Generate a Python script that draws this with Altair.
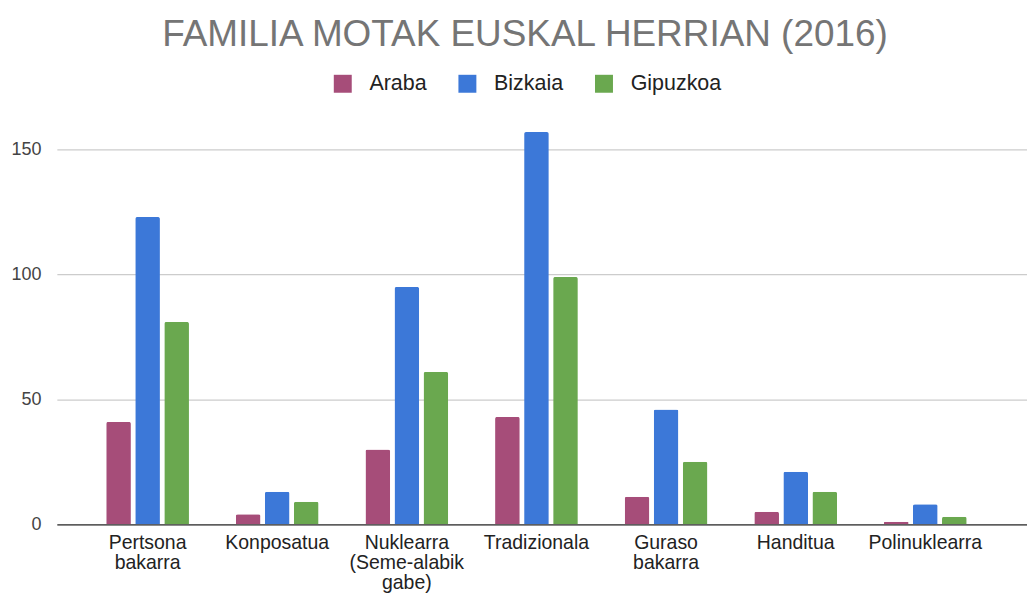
import altair as alt
import pandas as pd

categories = ["Pertsona bakarra", "Konposatua", "Nuklearra (Seme-alabik gabe)",
              "Tradizionala", "Guraso bakarra", "Handitua", "Polinuklearra"]
series = ["Araba", "Bizkaia", "Gipuzkoa"]
araba = [41, 4, 30, 43, 11, 5, 1]
bizkaia = [123, 13, 95, 157, 46, 21, 8]
gipuzkoa = [81, 9, 61, 99, 25, 13, 3]
colors = ["#a64d79", "#3c78d8", "#6aa84f"]
y_ticks = [0, 50, 100, 150]

rows = []
for s, vals in zip(series, [araba, bizkaia, gipuzkoa]):
    for c, v in zip(categories, vals):
        rows.append({"Mota": c, "Lurraldea": s, "Balioa": v})
df = pd.DataFrame(rows)

FONT = "Liberation Sans"

chart = alt.Chart(df).mark_bar(cornerRadiusTopLeft=2, cornerRadiusTopRight=2).encode(
    x=alt.X("Mota:N", sort=categories, title=None,
            scale=alt.Scale(paddingInner=0.3615, paddingOuter=0.423, align=0.45),
            axis=alt.Axis(labelAngle=0, labelExpr="split(datum.label, ' ')",
                          labelFont=FONT, labelFontSize=19.5, labelColor="#222222",
                          labelLineHeight=20, labelPadding=9, ticks=False,
                          domain=True, domainColor="#333333", domainWidth=1.2,
                          labelLimit=200)),
    xOffset=alt.XOffset("Lurraldea:N", sort=series,
                        scale=alt.Scale(paddingInner=0.15)),
    y=alt.Y("Balioa:Q", title=None,
            scale=alt.Scale(domain=[0, 160], nice=False),
            axis=alt.Axis(values=y_ticks, labelFont=FONT, labelFontSize=18,
                          labelColor="#444444", labelPadding=16, ticks=False,
                          domain=False, gridColor="#cccccc", gridWidth=1.2)),
    color=alt.Color("Lurraldea:N", sort=series,
                    scale=alt.Scale(domain=series, range=colors),
                    legend=alt.Legend(title=None, orient="none", direction="horizontal",
                                      legendX=276, legendY=-52,
                                      symbolType="square", symbolSize=324,
                                      symbolStrokeWidth=0, symbolOpacity=1,
                                      labelFont=FONT, labelFontSize=21.5,
                                      labelColor="#222222", labelOffset=16,
                                      columnPadding=30)),
).properties(
    width=973,
    height=401,
    title=alt.TitleParams("FAMILIA MOTAK EUSKAL HERRIAN (2016)", font=FONT,
                          fontSize=37, fontWeight="normal", color="#757575",
                          anchor="middle", frame="group", offset=19, dx=-17),
    autosize=alt.AutoSizeParams(type="none"),
    padding={"left": 49, "top": 116, "right": 0, "bottom": 72},
).configure_view(stroke=None)

chart.save("out.html", embed_options={"renderer": "svg", "actions": False})
